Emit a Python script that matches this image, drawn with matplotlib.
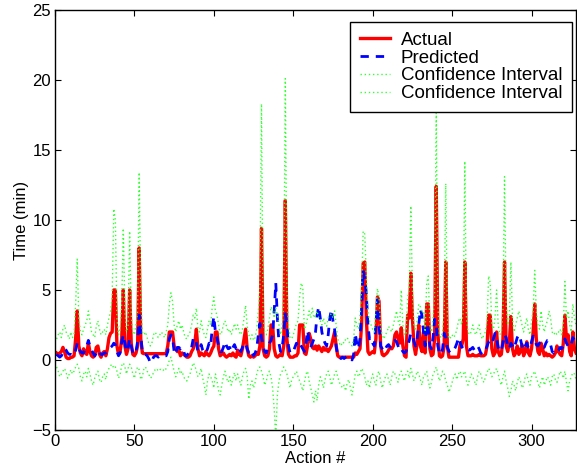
import numpy as np
import matplotlib
matplotlib.use('Agg')
import matplotlib.pyplot as plt

plt.rcParams['font.family'] = ['Liberation Sans', 'DejaVu Sans']

# actual task time per action (min)
actual = [
    0.5, 0.4, 0.5, 0.6, 0.9, 0.6, 0.2, 0.1, 0.1, 0.2,
    0.2, 0.3, 1.5, 3.5, 1.0, 0.5, 0.3, 0.8, 0.5, 0.4,
    1.2, 0.6, 0.3, 0.2, 0.3, 0.9, 1.0, 0.4, 0.2, 0.5,
    0.6, 0.3, 0.8, 1.6, 1.9, 2.0, 5.0, 5.0, 1.0, 0.4,
    0.6, 1.5, 5.0, 1.0, 0.4, 0.8, 5.0, 1.2, 0.4, 0.3,
    0.5, 1.0, 8.0, 1.5, 0.5, 0.45, 0.45, 0.45, 0.45, 0.45,
    0.45, 0.45, 0.45, 0.45, 0.45, 0.45, 0.45, 0.45, 0.45, 0.45,
    1.0, 2.0, 2.0, 2.0, 1.0, 0.8, 0.6, 0.7, 0.3, 0.5,
    0.4, 0.3, 0.2, 0.2, 0.3, 0.6, 0.8, 1.2, 2.2, 0.8,
    0.3, 0.5, 0.4, 0.3, 0.6, 0.4, 0.3, 0.5, 0.8, 1.0,
    2.0, 2.0, 0.8, 0.3, 0.4, 0.5, 0.3, 0.2, 0.3, 0.4,
    0.3, 0.5, 0.3, 0.2, 0.7, 0.4, 0.3, 0.8, 1.5, 2.2,
    0.8, 0.3, 0.2, 0.3, 0.2, 0.3, 0.5, 0.4, 1.0, 9.4,
    0.8, 0.3, 0.2, 0.3, 0.8, 2.5, 2.5, 0.8, 0.3, 0.2,
    0.3, 0.4, 0.3, 1.0, 11.4, 1.5, 0.4, 0.2, 0.2, 0.2,
    0.3, 0.3, 0.5, 2.5, 2.5, 2.5, 0.5, 0.4, 1.0, 1.9,
    1.5, 0.9, 0.8, 1.0, 0.7, 1.0, 0.8, 0.6, 0.9, 0.7,
    0.8, 0.6, 0.8, 1.0, 1.5, 2.0, 1.0, 0.3, 0.2, 0.2,
    0.2, 0.2, 0.2, 0.2, 0.2, 0.2, 0.2, 0.2, 0.5, 0.4,
    0.6, 0.8, 2.5, 6.9, 7.0, 3.0, 0.6, 0.4, 0.5, 0.6,
    0.5, 1.5, 4.5, 4.2, 1.0, 0.4, 0.3, 0.4, 0.5, 0.7,
    0.9, 0.8, 1.0, 1.8, 2.0, 1.5, 1.2, 2.3, 1.0, 0.3,
    0.2, 3.2, 3.0, 6.2, 3.0, 1.0, 0.4, 1.2, 2.5, 1.0,
    0.6, 2.0, 0.5, 4.0, 4.0, 0.8, 0.3, 0.4, 1.5, 12.4,
    2.0, 0.3, 0.2, 0.3, 1.0, 7.0, 1.0, 0.2, 0.2, 0.2,
    0.2, 0.2, 0.2, 0.2, 1.1, 1.0, 1.5, 7.0, 1.0, 0.3,
    0.3, 0.3, 0.4, 0.3, 0.3, 0.3, 0.4, 0.3, 0.3, 0.3,
    0.4, 1.0, 3.2, 3.2, 0.8, 0.3, 0.5, 2.0, 0.6, 0.3,
    0.4, 1.5, 7.0, 1.0, 0.6, 1.2, 3.1, 0.8, 0.3, 0.5,
    1.0, 0.4, 0.6, 1.1, 0.3, 0.6, 1.3, 0.5, 0.3, 0.8,
    2.0, 4.0, 1.5, 0.6, 0.4, 1.2, 0.8, 0.3, 0.5, 0.3,
    0.4, 0.3, 0.2, 0.3, 0.5, 1.0, 0.6, 0.4, 0.3, 1.2,
    3.2, 1.5, 1.8, 0.6, 0.3, 2.0, 0.8, 0.5,
]

# model prediction
predicted = [
    0.4, 0.3, 0.2, 0.3, 0.5, 0.8, 0.7, 0.5, 0.4, 0.4,
    0.3, 0.4, 0.7, 1.2, 0.8, 0.6, 0.5, 0.5, 0.8, 1.0,
    1.4, 1.0, 0.7, 0.5, 0.3, 0.5, 0.7, 0.5, 0.4, 0.4,
    0.5, 0.5, 0.6, 0.7, 0.9, 1.0, 1.2, 1.1, 0.6, 0.3,
    0.5, 1.3, 1.8, 1.2, 0.6, 0.8, 1.5, 1.0, 0.5, 0.4,
    0.6, 1.3, 3.2, 1.8, 0.5, 0.4, 0.4, 0.3, 0.1, -0.2,
    -0.1, 0.2, 0.3, 0.3, 0.2, 0.3, 0.3, 0.3, 0.3, 0.3,
    0.6, 1.5, 1.8, 1.6, 0.6, 0.4, 0.9, 0.9, 0.8, 0.9,
    0.6, 0.3, 0.3, 0.5, 0.6, 0.9, 1.5, 1.6, 1.2, 0.6,
    0.7, 1.1, 0.7, 0.5, 0.5, 0.8, 1.2, 1.0, 2.3, 3.1,
    2.0, 1.6, 1.0, 0.6, 0.6, 0.9, 1.3, 1.0, 0.8, 0.9,
    0.6, 0.9, 1.1, 0.8, 1.0, 0.8, 0.6, 0.9, 1.2, 1.2,
    0.8, 0.5, 0.4, 0.6, 0.3, 0.5, 0.8, 1.8, 2.6, 1.6,
    1.0, 0.6, 0.5, 0.8, 1.2, 1.4, 1.8, 3.5, 5.5, 3.0,
    1.2, 0.6, 0.9, 1.8, 3.3, 2.5, 1.0, 0.5, 0.5, 0.6,
    0.9, 1.2, 1.0, 1.2, 1.0, 0.8, 0.6, 1.2, 2.1, 1.4,
    0.9, 1.2, 1.5, 2.0, 3.2, 3.8, 3.0, 2.0, 1.5, 1.2,
    1.0, 1.8, 3.0, 3.6, 2.8, 2.2, 1.0, 0.3, 0.2, 0.1,
    0.2, 0.1, 0.2, 0.3, 0.2, 0.1, 0.0, 0.4, 1.9, 1.2,
    0.8, 1.5, 3.5, 6.4, 5.8, 4.7, 2.5, 1.5, 1.6, 1.2,
    1.0, 2.5, 4.3, 2.5, 1.0, 0.8, 0.6, 0.8, 1.0, 1.1,
    0.9, 1.0, 1.2, 1.4, 1.3, 1.0, 0.7, 0.8, 0.6, 0.5,
    0.6, 1.0, 1.4, 1.9, 1.8, 1.3, 1.0, 1.5, 2.5, 3.6,
    3.2, 2.0, 1.0, 2.6, 2.2, 1.0, 0.8, 1.6, 2.9, 2.4,
    1.0, 0.5, 0.4, 0.8, 1.9, 1.6, 0.9, 0.6, 0.7, 0.8,
    0.7, 0.9, 1.2, 1.6, 1.3, 0.9, 1.0, 1.0, 0.9, 0.8,
    0.7, 0.8, 0.9, 0.7, 0.8, 1.0, 0.8, 0.5, 0.4, 0.5,
    0.7, 1.0, 1.3, 1.4, 1.2, 1.5, 1.9, 1.5, 0.9, 0.6,
    0.7, 1.2, 1.8, 1.6, 1.0, 0.8, 1.2, 1.0, 0.8, 1.2,
    1.6, 1.8, 1.5, 1.0, 0.7, 1.0, 1.2, 0.9, 0.8, 1.3,
    1.7, 1.4, 1.1, 1.0, 1.2, 1.3, 1.0, 0.9, 1.2, 1.4,
    1.4, 1.1, 0.6, 0.5, 0.7, 0.6, 0.7, 0.9, 0.8, 1.0,
    1.5, 1.2, 1.0, 0.9, 1.1, 1.6, 1.4, 1.3,
]

# confidence interval bounds
ci_upper = [
    1.5, 1.8, 2.0, 1.6, 2.2, 2.5, 2.0, 1.8, 1.5, 2.0,
    1.6, 1.8, 4.0, 7.2, 3.0, 2.0, 1.8, 2.2, 2.5, 2.8,
    3.5, 2.8, 2.0, 1.8, 1.6, 2.4, 2.8, 2.2, 1.8, 2.0,
    2.2, 1.8, 2.5, 3.0, 3.5, 4.5, 10.8, 10.0, 3.0, 1.8,
    2.2, 4.0, 9.4, 3.5, 2.0, 2.5, 9.2, 3.2, 2.0, 1.8,
    2.5, 3.5, 13.4, 4.5, 2.0, 1.8, 2.0, 1.6, 1.2, 1.0,
    1.2, 1.8, 2.0, 1.8, 1.6, 1.8, 2.0, 1.8, 1.6, 2.0,
    2.5, 4.0, 4.8, 4.2, 2.5, 2.0, 2.5, 2.8, 2.2, 2.5,
    2.0, 1.6, 1.5, 1.8, 2.0, 2.5, 3.2, 3.0, 3.7, 2.2,
    2.0, 2.8, 2.2, 1.8, 1.6, 2.2, 2.8, 2.5, 3.8, 4.5,
    3.5, 3.2, 2.5, 1.8, 2.0, 2.5, 2.8, 2.4, 2.0, 2.2,
    1.8, 2.2, 2.6, 2.2, 2.5, 2.0, 1.8, 2.2, 3.0, 3.9,
    2.4, 1.8, 1.5, 1.8, 1.4, 1.6, 2.2, 3.5, 5.0, 18.3,
    3.0, 2.0, 1.8, 2.2, 3.0, 3.8, 3.5, 3.0, 3.7, 3.2,
    2.5, 1.8, 2.5, 4.0, 20.1, 5.0, 2.5, 1.6, 1.5, 1.8,
    2.2, 2.6, 2.8, 4.5, 5.5, 5.2, 2.2, 2.5, 3.0, 3.5,
    3.0, 3.7, 3.0, 3.2, 3.5, 3.0, 2.8, 2.5, 3.0, 2.6,
    2.4, 3.0, 3.2, 3.3, 3.0, 3.5, 2.5, 1.5, 1.2, 1.0,
    1.3, 1.2, 1.5, 1.6, 1.3, 1.2, 1.0, 1.5, 3.0, 2.5,
    2.2, 3.0, 5.0, 9.2, 9.0, 6.0, 3.5, 2.8, 2.5, 2.2,
    2.0, 3.5, 5.1, 4.5, 2.2, 1.8, 1.5, 1.8, 2.0, 2.4,
    2.2, 2.0, 2.5, 3.0, 3.5, 2.8, 2.5, 5.0, 2.5, 1.8,
    1.8, 4.5, 5.0, 11.0, 5.0, 2.5, 2.2, 2.8, 4.0, 3.8,
    3.5, 3.5, 2.0, 5.5, 6.0, 2.5, 2.0, 3.0, 4.5, 17.8,
    4.0, 1.8, 1.6, 2.0, 3.5, 12.6, 3.0, 1.5, 1.6, 1.8,
    1.6, 1.8, 2.2, 2.8, 3.0, 2.5, 3.5, 14.2, 3.0, 2.0,
    1.8, 2.0, 2.5, 2.0, 1.8, 2.2, 2.5, 1.8, 1.5, 1.8,
    2.0, 2.8, 6.0, 5.5, 2.5, 2.2, 3.0, 5.0, 2.5, 1.8,
    2.0, 3.5, 13.1, 4.0, 2.5, 3.0, 7.0, 3.0, 2.0, 2.5,
    3.0, 3.5, 3.0, 2.5, 2.0, 2.5, 3.0, 2.2, 1.8, 2.8,
    3.5, 6.4, 3.5, 2.5, 2.2, 3.5, 2.5, 2.0, 2.5, 2.8,
    3.5, 3.0, 2.0, 1.8, 2.0, 1.8, 2.0, 2.2, 1.8, 2.5,
    5.6, 3.0, 3.5, 2.5, 2.0, 4.0, 3.0, 2.5,
]

ci_lower = [
    -0.5, -0.8, -1.2, -1.0, -0.8, -0.6, -0.9, -1.3, -1.0, -0.7,
    -1.0, -0.8, -0.5, -0.3, -0.6, -1.2, -1.5, -1.0, -0.8, -1.2,
    -0.6, -1.0, -1.5, -1.8, -1.3, -1.0, -0.8, -1.4, -1.6, -1.2,
    -1.0, -1.4, -0.8, -0.6, -0.4, -0.3, -0.6, -0.5, -0.8, -1.3,
    -1.0, -0.4, -0.2, -0.5, -1.0, -0.6, -0.3, -0.5, -1.0, -1.3,
    -0.8, -0.5, -0.7, -1.4, -1.2, -0.6, -0.5, -0.8, -1.0, -1.3,
    -1.2, -0.9, -0.7, -0.6, -0.8, -0.7, -0.6, -0.7, -0.8, -0.6,
    -0.4, 0.0, 0.2, -0.3, -0.8, -1.2, -0.9, -0.6, -1.0, -0.8,
    -1.2, -1.4, -1.5, -1.2, -1.0, -0.6, -0.2, -0.4, -0.8, -1.2,
    -1.0, -0.6, -1.3, -1.8, -2.5, -1.5, -1.0, -1.2, -1.5, -2.0,
    -1.0, -1.5, -2.2, -2.5, -1.8, -1.2, -0.8, -1.3, -1.6, -1.2,
    -1.8, -1.3, -0.9, -1.5, -1.0, -1.4, -1.8, -1.2, -0.8, -0.6,
    -1.2, -2.8, -1.8, -1.5, -2.0, -1.6, -1.0, -0.6, -0.5, -0.8,
    -1.2, -1.8, -1.5, -1.0, -0.8, -1.2, -2.0, -3.5, -5.5, -2.5,
    -1.5, -1.0, -0.8, -0.5, -0.7, -1.0, -1.5, -2.0, -1.4, -1.2,
    -1.0, -0.8, -1.2, -1.5, -1.8, -2.2, -1.6, -1.0, -0.8, -1.5,
    -2.0, -2.5, -3.0, -2.2, -2.9, -1.8, -1.2, -1.5, -2.0, -1.4,
    -1.0, -0.8, -1.2, -1.8, -1.5, -1.0, -0.8, -1.2, -1.6, -1.8,
    -2.0, -1.8, -2.2, -1.6, -1.4, -2.0, -2.5, -1.8, -1.0, -0.8,
    -1.2, -1.0, -0.6, -0.8, -1.2, -1.8, -1.5, -2.0, -1.4, -1.0,
    -1.5, -1.8, -1.0, -0.8, -1.5, -2.0, -1.6, -1.2, -1.0, -1.4,
    -1.8, -1.2, -0.8, -1.0, -1.3, -1.6, -1.0, -0.8, -1.2, -1.5,
    -1.0, -0.8, -1.3, -0.6, -1.0, -1.5, -1.2, -0.8, -1.0, -1.4,
    -1.8, -1.2, -1.0, -0.8, -1.5, -2.0, -1.6, -1.0, -0.8, -0.5,
    -1.0, -1.5, -1.2, -0.8, -1.0, -1.5, -1.8, -2.3, -2.0, -1.6,
    -1.2, -1.0, -1.4, -1.0, -0.8, -1.2, -1.0, -0.8, -1.5, -1.8,
    -1.4, -1.0, -1.2, -1.5, -1.8, -1.2, -0.8, -1.0, -1.4, -1.6,
    -1.2, -0.9, -0.6, -0.8, -1.2, -1.0, -0.8, -0.6, -1.0, -1.5,
    -1.8, -1.2, -0.8, -1.5, -2.0, -2.6, -2.2, -1.5, -1.8, -2.2,
    -1.6, -1.2, -1.5, -2.0, -1.8, -1.2, -1.0, -1.5, -1.8, -1.2,
    -1.0, -0.8, -1.3, -1.6, -2.0, -1.5, -1.2, -1.8, -1.5, -1.2,
    -1.4, -1.8, -1.2, -1.0, -1.4, -1.6, -1.2, -0.8, -1.0, -1.3,
    -0.8, -1.6, -2.2, -1.5, -1.2, -0.9, -1.0, -1.4,
]

actions = np.arange(1, len(actual) + 1)

fig = plt.figure(figsize=(5.77, 4.69), dpi=100)
ax = fig.add_axes([0.0953, 0.0832, 0.9030, 0.8955])

ax.plot(actions, actual, color='red', lw=2.4, label='Actual')
ax.plot(actions, predicted, color='blue', lw=2.0, ls='--', dashes=(3, 2.5), label='Predicted')
ax.plot(actions, ci_upper, color='#33ff33', lw=1.0, ls=':', dashes=(1, 2), label='Confidence Interval')
ax.plot(actions, ci_lower, color='#33ff33', lw=1.0, ls=':', dashes=(1, 2), label='Confidence Interval')

ax.set_xlim(0, 328)
ax.set_ylim(-5, 25)
ax.set_xticks([0, 50, 100, 150, 200, 250, 300])
ax.set_yticks([-5, 0, 5, 10, 15, 20, 25])
ax.set_yticklabels(['\u22125', '0', '5', '10', '15', '20', '25'])
ax.tick_params(direction='in', top=True, right=True, length=4, labelsize=12, pad=3)
for s in ax.spines.values():
    s.set_linewidth(1.0)

ax.set_xlabel('Action #', fontsize=12, labelpad=1)
ax.set_ylabel('Time (min)', fontsize=12, labelpad=2)

leg = ax.legend(loc='upper right', bbox_to_anchor=(0.992, 0.971), fontsize=13.5,
                fancybox=False, framealpha=1, edgecolor='black', borderaxespad=0,
                handlelength=1.6, borderpad=0.5, labelspacing=0.04, handletextpad=0.6)
leg.get_frame().set_linewidth(1.0)

fig.savefig('out.png', dpi=100)
